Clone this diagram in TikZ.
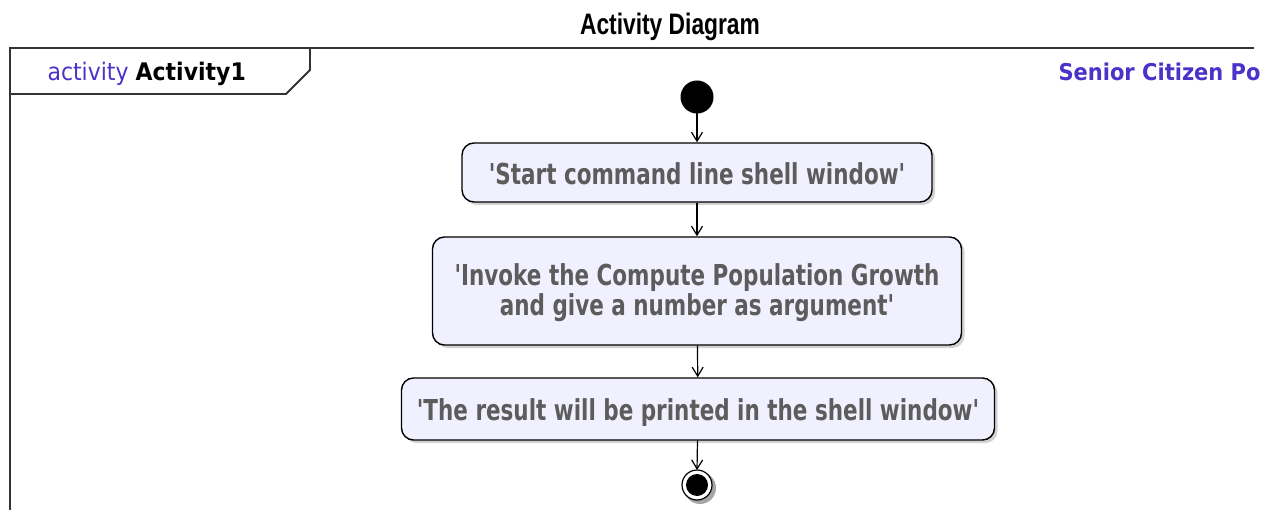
\documentclass[tikz,border=0pt]{standalone}
\usepackage{graphicx}
\usepackage{fontspec}
\setmainfont{DejaVu Sans}[Ligatures=TeXOff]
\newfontfamily\titlefont{Liberation Sans}
\usetikzlibrary{arrows.meta,shadows}

\definecolor{actfill}{RGB}{240,240,255}
\definecolor{acttext}{RGB}{92,92,92}
\definecolor{kwblue}{RGB}{75,50,200}

% text in the reference is drawn a bit taller than wide
\newcommand{\tall}[2][1.34]{\scalebox{1}[#1]{\begin{tabular}[b]{@{}c@{}}#2\end{tabular}}}

\tikzset{
    action/.style={draw=black, line width=1.4pt, fill=actfill, rounded corners=12pt,
        align=center, text=acttext, font=\bfseries\fontsize{21.5}{21}\selectfont,
        text depth=0pt,
        drop shadow={shadow xshift=3pt, shadow yshift=-3pt, fill=black!35}},
    flow/.style={draw, line width=1.2pt, -{Straight Barb[length=9pt,width=11pt]}},
    frame/.style={draw=black!80, line width=1.8pt},
}

\begin{document}
\begin{tikzpicture}[x=1pt,y=-1pt]
    \useasboundingbox (0,0) rectangle (1265,510);

    \node [font=\titlefont\bfseries\fontsize{22.8}{24}\selectfont] (title) at (670,28) {\tall[1.3]{Activity Diagram}};

    % frame
    \draw [frame] (10,510) -- (10,48) -- (1254,48);
    \draw [frame] (10,94) -- (286,94) -- (310,70) -- (310,48);
    \node [anchor=west, font=\fontsize{22}{24}\selectfont] (kind) at (44,75)
        {\tall[1.1]{\textcolor{kwblue}{activity} \textbf{Activity1}}};
    \node [anchor=west, text=kwblue, font=\bfseries\fontsize{21}{24}\selectfont] (pkg) at (1055,75)
        {\tall[1.1]{Senior Citizen Po}};

    % start
    \fill [black] (697,97) circle (16.5pt);
    \coordinate (start) at (697,113);

    \node [action, minimum width=470pt, minimum height=59pt, text height=25pt] (a1) at (697,172.5)
        {\tall{'Start command line shell window'}};
    \node [action, minimum width=529pt, minimum height=108pt, text height=50pt] (a2) at (697,291)
        {\tall{'Invoke the Compute Population Growth\\and give a number as argument'}};
    \node [action, minimum width=593pt, minimum height=62pt, text height=22pt] (a3) at (698,409)
        {\tall{'The result will be printed in the shell window'}};

    % end
    \fill [black!35] (700,488) circle (16pt);
    \draw [line width=1.2pt, fill=white] (697,485) circle (15pt);
    \fill [black] (697,485) circle (11pt);
    \coordinate (stop) at (697,470);

    \draw [flow] (start) -- (a1);
    \draw [flow] (a1) -- (a2);
    \draw [flow] (a2) -- (a3);
    \draw [flow] (a3) -- (stop);
\end{tikzpicture}
\end{document}
